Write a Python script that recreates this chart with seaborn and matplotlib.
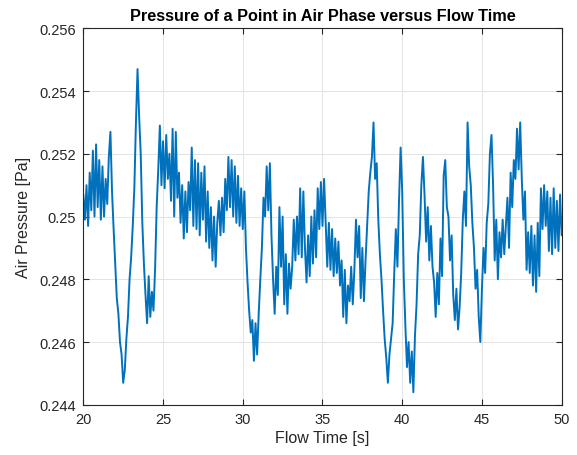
import numpy as np
import pandas as pd
import matplotlib
matplotlib.use("Agg")
import matplotlib.pyplot as plt
import seaborn as sns

# Pressure samples, one per 0.1 s from 20 s to 50 s
flow_time = np.linspace(20, 50, 301)
air_pressure = [
    0.2507, 0.2499, 0.2510, 0.2497, 0.2514, 0.2502, 0.2521, 0.2500, 0.2523, 0.2503,
    0.2518, 0.2499, 0.2516, 0.2500, 0.2512, 0.2504, 0.2519, 0.2527, 0.2508, 0.2496,
    0.2485, 0.2474, 0.2469, 0.2460, 0.2456, 0.2447, 0.2451, 0.2461, 0.2468, 0.2480,
    0.2487, 0.2497, 0.2509, 0.2530, 0.2547, 0.2532, 0.2520, 0.2498, 0.2485, 0.2475,
    0.2466, 0.2481, 0.2468, 0.2476, 0.2470, 0.2483, 0.2503, 0.2515, 0.2529, 0.2510,
    0.2524, 0.2509, 0.2526, 0.2512, 0.2520, 0.2505, 0.2528, 0.2500, 0.2527, 0.2506,
    0.2514, 0.2498, 0.2510, 0.2493, 0.2508, 0.2495, 0.2511, 0.2502, 0.2522, 0.2497,
    0.2518, 0.2496, 0.2517, 0.2494, 0.2514, 0.2499, 0.2516, 0.2492, 0.2508, 0.2490,
    0.2503, 0.2486, 0.2500, 0.2484, 0.2498, 0.2505, 0.2494, 0.2506, 0.2495, 0.2512,
    0.2502, 0.2519, 0.2503, 0.2518, 0.2500, 0.2516, 0.2498, 0.2513, 0.2497, 0.2509,
    0.2496, 0.2508, 0.2490, 0.2479, 0.2470, 0.2463, 0.2467, 0.2454, 0.2466, 0.2456,
    0.2469, 0.2480, 0.2490, 0.2506, 0.2500, 0.2516, 0.2502, 0.2517, 0.2494, 0.2480,
    0.2469, 0.2484, 0.2475, 0.2503, 0.2484, 0.2500, 0.2472, 0.2488, 0.2469, 0.2485,
    0.2477, 0.2484, 0.2499, 0.2486, 0.2500, 0.2488, 0.2509, 0.2487, 0.2508, 0.2490,
    0.2479, 0.2494, 0.2481, 0.2500, 0.2485, 0.2502, 0.2487, 0.2509, 0.2496, 0.2511,
    0.2497, 0.2512, 0.2498, 0.2484, 0.2498, 0.2483, 0.2496, 0.2481, 0.2493, 0.2482,
    0.2492, 0.2478, 0.2486, 0.2468, 0.2483, 0.2466, 0.2478, 0.2473, 0.2484, 0.2472,
    0.2483, 0.2499, 0.2487, 0.2497, 0.2474, 0.2490, 0.2473, 0.2486, 0.2497, 0.2508,
    0.2514, 0.2519, 0.2530, 0.2512, 0.2517, 0.2499, 0.2488, 0.2480, 0.2470, 0.2461,
    0.2455, 0.2447, 0.2456, 0.2461, 0.2466, 0.2482, 0.2496, 0.2484, 0.2505, 0.2522,
    0.2508, 0.2480, 0.2465, 0.2452, 0.2460, 0.2447, 0.2457, 0.2444, 0.2462, 0.2472,
    0.2488, 0.2494, 0.2510, 0.2519, 0.2507, 0.2492, 0.2503, 0.2486, 0.2497, 0.2484,
    0.2479, 0.2468, 0.2482, 0.2472, 0.2493, 0.2481, 0.2513, 0.2518, 0.2503, 0.2500,
    0.2486, 0.2494, 0.2475, 0.2467, 0.2477, 0.2464, 0.2471, 0.2482, 0.2499, 0.2508,
    0.2497, 0.2530, 0.2516, 0.2510, 0.2498, 0.2490, 0.2477, 0.2483, 0.2468, 0.2460,
    0.2477, 0.2490, 0.2482, 0.2498, 0.2504, 0.2520, 0.2526, 0.2510, 0.2486, 0.2499,
    0.2480, 0.2495, 0.2487, 0.2499, 0.2488, 0.2497, 0.2506, 0.2490, 0.2514, 0.2503,
    0.2518, 0.2512, 0.2528, 0.2515, 0.2530, 0.2512, 0.2499, 0.2508, 0.2483, 0.2495,
    0.2482, 0.2497, 0.2478, 0.2494, 0.2476, 0.2498, 0.2481, 0.2509, 0.2496, 0.2510,
    0.2497, 0.2508, 0.2489, 0.2506, 0.2488, 0.2509, 0.2490, 0.2505, 0.2489, 0.2507,
    0.2494,
]

x_ticks = [20, 25, 30, 35, 40, 45, 50]
y_ticks = [0.244, 0.246, 0.248, 0.250, 0.252, 0.254, 0.256]
y_tick_labels = ['0.244', '0.246', '0.248', '0.25', '0.252', '0.254', '0.256']

df = pd.DataFrame({'time': flow_time, 'pressure': air_pressure})

sns.set_theme(style='whitegrid')
plt.rcParams['font.family'] = ['Liberation Sans', 'DejaVu Sans']

fig = plt.figure(figsize=(5.77, 4.56), dpi=100)
ax = fig.add_axes([0.1444, 0.1102, 0.8290, 0.8255])

sns.lineplot(data=df, x='time', y='pressure', ax=ax, color='#0072BD', linewidth=1.4)

ax.set_xlim(20, 50)
ax.set_ylim(0.244, 0.256)
ax.set_xticks(x_ticks)
ax.set_yticks(y_ticks)
ax.set_yticklabels(y_tick_labels)

ax.grid(True, color='#e3e3e3', linewidth=0.7)
ax.set_facecolor('white')
for side in ['left', 'right', 'top', 'bottom']:
    ax.spines[side].set_visible(True)
    ax.spines[side].set_color('#262626')
    ax.spines[side].set_linewidth(0.8)

ax.tick_params(direction='in', length=4, width=0.8, color='#262626',
               top=True, right=True, bottom=True, left=True,
               labelsize=10.5, labelcolor='#262626', pad=5)

ax.set_xlabel('Flow Time [s]', fontsize=11.5, color='#262626', labelpad=3)
ax.set_ylabel('Air Pressure [Pa]', fontsize=11.5, color='#262626', labelpad=6)
ax.set_title('Pressure of a Point in Air Phase versus Flow Time',
             fontsize=11.7, fontweight='bold', color='black', pad=6)

fig.savefig('out.png', dpi=100)
